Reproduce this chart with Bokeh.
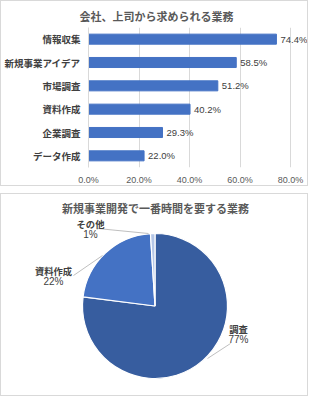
import numpy as np
from bokeh.plotting import figure
from bokeh.models import (ColumnDataSource, LabelSet, FixedTicker, PrintfTickFormatter,
                          Range1d, Label)
from bokeh.core.properties import value
from bokeh.embed import file_html
from bokeh.resources import INLINE

FONT = "Noto Sans CJK JP"
NUMFONT = "Liberation Sans"

# ---- data: bar chart ----
bar_title = "会社、上司から求められる業務"
bar_cats = ["情報収集", "新規事業アイデア", "市場調査", "資料作成", "企業調査", "データ作成"]
bar_vals = [74.4, 58.5, 51.2, 40.2, 29.3, 22.0]
x_ticks = [0, 20, 40, 60, 80]

# ---- data: pie chart ----
pie_title = "新規事業開発で一番時間を要する業務"
pie_cats = ["調査", "資料作成", "その他"]
pie_vals = [77, 22, 1]
pie_colors = ["#375D9F", "#4472C4", "#B4C6E7"]

# ---------------- bar chart ----------------
p1 = figure(width=308, height=186, y_range=list(reversed(bar_cats)), x_range=Range1d(0, 87.1),
            output_backend="svg", toolbar_location=None,
            min_border_left=86, min_border_right=1, min_border_top=26, min_border_bottom=19)
p1.styles = {"border": "1px solid #D9D9D9"}
p1.outline_line_color = None
p1.title.text = bar_title
p1.title.align = "left"
p1.title.vertical_align = "top"
p1.title.offset = -9
p1.title.standoff = 4
p1.title.text_font = FONT
p1.title.text_font_size = "11px"
p1.title.text_color = "#595959"
p1.title.text_font_style = "bold"

src = ColumnDataSource(dict(cat=bar_cats, val=bar_vals, lab=[f"{v:.1f}%" for v in bar_vals]))
p1.hbar(y="cat", right="val", left=0, height=0.43, source=src, color="#4472C4")
p1.add_layout(LabelSet(x="val", y="cat", text="lab", source=src, x_offset=4,
                       text_baseline="middle", text_font=value(NUMFONT),
                       text_font_size="9.5px", text_color="#404040"))

p1.xaxis.ticker = FixedTicker(ticks=x_ticks)
p1.xaxis.formatter = PrintfTickFormatter(format="%.1f%%")
p1.xaxis.axis_line_color = None
p1.xaxis.major_tick_line_color = None
p1.xaxis.minor_tick_line_color = None
p1.xaxis.major_tick_out = 0
p1.xaxis.minor_tick_out = 0
p1.xaxis.major_label_text_font = NUMFONT
p1.xaxis.major_label_text_font_size = "9px"
p1.xaxis.major_label_text_color = "#595959"
p1.xaxis.major_label_standoff = 7
p1.yaxis.axis_line_color = "#D9D9D9"
p1.yaxis.major_tick_line_color = None
p1.yaxis.minor_tick_line_color = None
p1.yaxis.major_tick_out = 0
p1.yaxis.minor_tick_out = 0
p1.yaxis.major_label_text_font = FONT
p1.yaxis.major_label_text_font_size = "9.5px"
p1.yaxis.major_label_text_font_style = "bold"
p1.yaxis.major_label_text_color = "#404040"
p1.yaxis.major_label_standoff = 8
p1.xgrid.grid_line_color = "#D9D9D9"
p1.ygrid.grid_line_color = None

# ---------------- pie chart ----------------
W2, H2 = 308, 203
p2 = figure(width=W2, height=H2, x_range=Range1d(0, W2), y_range=Range1d(0, H2),
            output_backend="svg", toolbar_location=None,
            x_axis_location=None, y_axis_location=None, min_border=0)
p2.styles = {"border": "1px solid #D9D9D9", "margin-top": "7px"}
p2.outline_line_color = None
p2.grid.visible = False

cx, cy, r = 153.5, H2 - 111.5, 72.5
fr = np.array(pie_vals, dtype=float) / sum(pie_vals)
cum = np.concatenate([[0], np.cumsum(fr)])
starts = np.pi / 2 - cum[:-1] * 2 * np.pi
ends = np.pi / 2 - cum[1:] * 2 * np.pi
psrc = ColumnDataSource(dict(start=starts, end=ends, color=pie_colors))
p2.wedge(x=cx, y=cy, radius=r, start_angle="start", end_angle="end", direction="clock",
         color="color", line_color="white", line_width=1.2, source=psrc)

p2.add_layout(Label(x=W2 / 2, y=H2 - 13, text=pie_title, text_align="center",
                    text_baseline="middle", text_font=FONT, text_font_size="11px",
                    text_font_style="bold", text_color="#595959"))

# label positions (layout), in px from top-left of panel: label x, y, leader x0, y0, x1, y1
lab_pos = [(237, 134, 229, 149, 206, 164), (52, 76, 72, 81, 101, 61), (89, 29, 96, 34, 147, 39)]
for (lx, ly, x0, y0, x1, y1), name, v in zip(lab_pos, pie_cats, pie_vals):
    p2.add_layout(Label(x=lx, y=H2 - ly, text=name, text_align="center", text_baseline="middle",
                        text_font=FONT, text_font_size="9.3px", text_font_style="bold",
                        text_color="#404040"))
    p2.add_layout(Label(x=lx, y=H2 - ly - 11, text=f"{v}%", text_align="center",
                        text_baseline="middle", text_font=NUMFONT, text_font_size="10px",
                        text_color="#404040"))
    p2.segment(x0=x0, y0=H2 - y0, x1=x1, y1=H2 - y1, line_color="#BFBFBF", line_width=1)

open("out.html", "w").write(file_html([p1, p2], INLINE))
